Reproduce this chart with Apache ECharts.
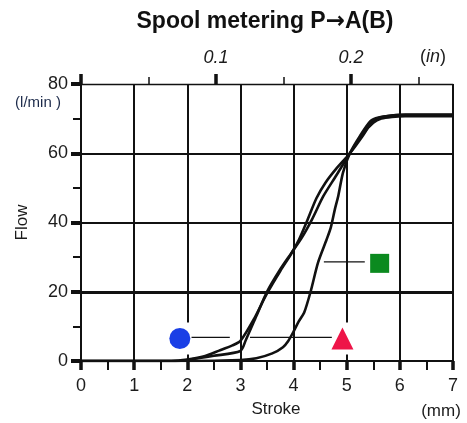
<!DOCTYPE html>
<html><head><meta charset="utf-8">
<script src="https://cdn.jsdelivr.net/npm/echarts@6/dist/echarts.min.js"></script>
<style>html,body{margin:0;padding:0;background:#fff}#c{width:467px;height:423px}</style>
</head><body><div id="c"></div>
<script>
// ---- data (stroke in mm, flow in l/min) ----
const strokeHalfTicks = [0.5, 1.5, 2.5, 3.5, 4.5, 5.5, 6.5];
const inchMajor = [0.1, 0.2];
const inchMinor = [0.05, 0.15, 0.25];
const inchAxisStart = [0];
const curveA = [[0,0],[1.7,0],[2,0.4],[2.3,1.3],[2.6,3],[2.85,4.5],[3,5.8],[3.25,12],[3.5,19.5],[3.75,26],[3.95,30.8],[4.1,35],[4.25,40.3],[4.43,47],[4.6,51.5],[4.8,55.5],[5.06,60],[5.3,65],[5.45,68.5],[5.55,69.9],[5.75,70.7],[6,71],[7,71]];
const curveB = [[0,0],[1.8,0],[2,0.3],[2.5,1.5],[3,2.9],[3.1,6],[3.3,13],[3.5,20],[3.75,26.5],[3.95,31],[4.15,35.5],[4.35,41],[4.56,47.6],[4.8,53.5],[5.06,60],[5.3,65.5],[5.5,68.8],[5.65,70],[5.85,70.5],[6.1,70.7],[7,70.7]];
const curveC = [[0,0],[2,0],[3,0.3],[3.3,0.8],[3.6,2.2],[3.8,4],[3.9,5.8],[4,8.5],[4.1,11.5],[4.2,14],[4.32,20],[4.46,28.4],[4.62,35],[4.7,38.5],[4.78,44],[4.84,47.6],[4.93,54.4],[5.06,60],[5.25,65],[5.45,69.3],[5.6,70.3],[5.85,70.9],[6.1,71.2],[7,71.2]];
const heavyGridFlow = [20];
const circleMarker = [[1.86, 6.5]];
const triangleMarker = [[4.92, 6.5]];
const squareMarker = [[5.62, 28.2]];
const circleLeader = [[2.08, 6.8], [2.8, 6.8]];
const triangleLeader = [[3.18, 6.8], [4.72, 6.8]];
const squareLeader = [[4.57, 28.6], [5.34, 28.6]];

const FF = '"Liberation Sans", Arial, sans-serif';
const INK = '#111';
const TXT = '#1c1c1c';
const chart = echarts.init(document.getElementById('c'), null, {renderer: 'canvas'});
const lineS = (data, extra) => Object.assign({type: 'line', data, showSymbol: false, symbol: 'none', smooth: 0.25, z: 3,
  lineStyle: {color: INK, width: 2.6}, silent: true, animation: false}, extra || {});
const leaderS = (data) => ({type: 'line', data, showSymbol: false, symbol: 'none', z: 4,
  lineStyle: {color: INK, width: 1.3}, silent: true, animation: false});

chart.setOption({
  animation: false,
  backgroundColor: '#fff',
  grid: {left: 81, right: 14, top: 84, bottom: 61},
  xAxis: [
    {type: 'value', position: 'bottom', min: 0, max: 7, interval: 1,
     axisLine: {show: true, onZero: false, lineStyle: {color: INK, width: 2}},
     axisTick: {show: true, inside: false, length: 9, lineStyle: {color: INK, width: 3.5}},
     axisLabel: {margin: 16, fontSize: 18, color: TXT, fontFamily: FF},
     splitLine: {show: true, showMinLine: false, showMaxLine: true, lineStyle: {color: INK, width: 2}},
     name: 'Stroke', nameLocation: 'middle', nameGap: 40,
     nameTextStyle: {fontSize: 17, color: TXT, fontFamily: FF, padding: [0, 0, 0, 18]}},
    {type: 'value', position: 'top', min: 0, max: 7 / 25.4,
     axisLine: {show: true, onZero: false, lineStyle: {color: INK, width: 1.3}},
     axisTick: {show: true, customValues: inchAxisStart.concat(inchMajor), length: 10, lineStyle: {color: INK, width: 3.5}},
     axisLabel: {show: true, customValues: inchMajor, formatter: v => v.toFixed(1), margin: 17,
       fontSize: 18, fontStyle: 'italic', color: TXT, fontFamily: FF},
     splitLine: {show: false}},
    {type: 'value', position: 'top', min: 0, max: 7 / 25.4,
     axisLine: {show: false, onZero: false},
     axisTick: {show: true, customValues: inchMinor, length: 7, lineStyle: {color: INK, width: 1.5}},
     axisLabel: {show: false}, splitLine: {show: false}},
    {type: 'value', position: 'bottom', min: 0, max: 7,
     axisLine: {show: false, onZero: false},
     axisTick: {show: true, inside: false, customValues: strokeHalfTicks, length: 9, lineStyle: {color: INK, width: 2}},
     axisLabel: {show: false}, splitLine: {show: false}}
  ],
  yAxis: [
    {type: 'value', min: 0, max: 80, interval: 20,
     axisLine: {show: true, onZero: false, lineStyle: {color: INK, width: 2}},
     axisTick: {show: true, length: 10, lineStyle: {color: INK, width: 4}},
     minorTick: {show: true, splitNumber: 2, length: 8, lineStyle: {color: INK, width: 2}},
     axisLabel: {margin: 13, fontSize: 18, color: TXT, fontFamily: FF},
     splitLine: {show: true, showMinLine: false, showMaxLine: false, lineStyle: {color: INK, width: 2.2}},
     name: 'Flow', nameLocation: 'middle', nameGap: 50,
     nameTextStyle: {fontSize: 17, color: TXT, fontFamily: FF}}
  ],
  graphic: [
    {type: 'text', x: 265, y: 22, style: {text: 'Spool metering P{a|\u2192}A(B)', align: 'center', verticalAlign: 'middle',
      fontSize: 23, fontWeight: 'bold', fontFamily: FF, fill: '#111',
      rich: {a: {fontSize: 23, fontWeight: 'bold', fontFamily: '"DejaVu Sans"', fill: '#111'}}}},
    {type: 'text', x: 433, y: 57, style: {text: '({i|in})', align: 'center', verticalAlign: 'middle',
      fontSize: 18, fontFamily: FF, fill: TXT, rich: {i: {fontStyle: 'italic', fontSize: 18, fontFamily: FF, fill: TXT}}}},
    {type: 'text', x: 38, y: 103, style: {text: '(l/min )', align: 'center', verticalAlign: 'middle',
      fontSize: 15, fontFamily: FF, fill: '#1c2a4a'}},
    {type: 'text', x: 441, y: 411, style: {text: '(mm)', align: 'center', verticalAlign: 'middle',
      fontSize: 17, fontFamily: FF, fill: TXT}}
  ],
  series: [
    {type: 'scatter', data: circleMarker.concat(triangleMarker), symbol: 'rect', symbolSize: [30, 32], z: 2,
     itemStyle: {color: '#fff', opacity: 1}, silent: true},
    lineS(curveA, {markLine: {silent: true, symbol: 'none', label: {show: false},
      lineStyle: {color: INK, width: 3, type: 'solid'}, data: heavyGridFlow.map(v => ({yAxis: v}))}}),
    lineS(curveB), lineS(curveC),
    leaderS(circleLeader), leaderS(triangleLeader), leaderS(squareLeader),
    {type: 'scatter', data: circleMarker, symbol: 'circle', symbolSize: 21, z: 5, itemStyle: {color: '#1a3fe6', opacity: 1}, silent: true},
    {type: 'scatter', data: triangleMarker, symbol: 'triangle', symbolSize: [22, 22], z: 5, itemStyle: {color: '#ee1548', opacity: 1}, silent: true},
    {type: 'scatter', data: squareMarker, symbol: 'rect', symbolSize: 19, z: 5, itemStyle: {color: '#0b8a1f', opacity: 1}, silent: true}
  ]
});
</script></body></html>
